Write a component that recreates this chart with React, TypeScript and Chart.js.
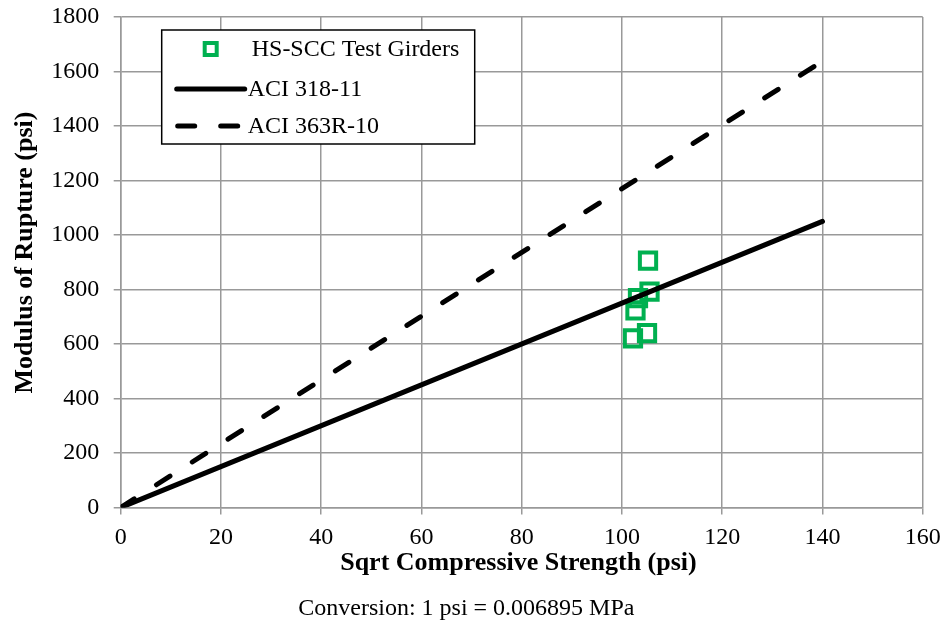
import React, { useEffect, useRef } from "react";
import { Chart, registerables } from "chart.js";

Chart.register(...registerables);

const FONT = "'Liberation Serif', 'Times New Roman', serif";
const FS = 24;
const TFS = 26;

const testX = [105.2, 105.5, 103.2, 102.7, 102.2, 105.0];
const testY = [906, 792, 768, 723, 621, 640];

const aci318X = [0, 140];
const aci318Y = [0, 1050];

const aci363X = [0, 140];
const aci363Y = [0, 1638];

const seriesLabels = ["HS-SCC Test Girders", "ACI 318-11", "ACI 363R-10"];
const xTitle = "Sqrt Compressive Strength (psi) ";
const yTitle = "   Modulus of Rupture (psi)";
const noteText = "Conversion: 1 psi = 0.006895 MPa";

const GREEN = "#00b050";
const GRID = "#999999";

const toPoints = (xs: number[], ys: number[]) => xs.map((x, i) => ({ x, y: ys[i] }));

const legendPlugin = {
  id: "boxLegend",
  afterDraw(chart: any) {
    const { ctx, chartArea } = chart;
    const left = chartArea.left + 41;
    const top = chartArea.top + 13;
    const w = 313;
    const h = 114;
    ctx.save();
    ctx.fillStyle = "#ffffff";
    ctx.fillRect(left, top, w, h);
    ctx.strokeStyle = "#000000";
    ctx.lineWidth = 1.5;
    ctx.strokeRect(left, top, w, h);

    const rows = [top + 19, top + 59, top + 96];
    const textX = left + 90;
    ctx.font = `${FS}px ${FONT}`;
    ctx.textBaseline = "middle";
    ctx.textAlign = "left";

    // marker
    ctx.strokeStyle = GREEN;
    ctx.lineWidth = 4;
    ctx.strokeRect(left + 49 - 6, rows[0] - 6, 12, 12);

    // solid
    ctx.strokeStyle = "#000";
    ctx.lineWidth = 5;
    ctx.lineCap = "round";
    ctx.beginPath();
    ctx.moveTo(left + 15, rows[1]);
    ctx.lineTo(left + 83, rows[1]);
    ctx.stroke();

    // dashed
    ctx.setLineDash([17, 26]);
    ctx.beginPath();
    ctx.moveTo(left + 16, rows[2]);
    ctx.lineTo(left + 80, rows[2]);
    ctx.stroke();
    ctx.setLineDash([]);

    const labels = chart.data.datasets.map((d: any) => d.label);
    ctx.fillStyle = "#000";
    ctx.fillText(labels[0], textX, rows[0] + 1);
    ctx.fillText(labels[1], textX - 4, rows[1] + 1);
    ctx.fillText(labels[2], textX - 4, rows[2] + 1);
    ctx.restore();
  },
};

export default function App() {
  const ref = useRef<HTMLCanvasElement | null>(null);

  useEffect(() => {
    if (!ref.current) return;
    const chart = new Chart(ref.current, {
      type: "scatter",
      data: {
        datasets: [
          {
            label: seriesLabels[0],
            data: toPoints(testX, testY),
            showLine: false,
            pointStyle: "rect",
            pointRadius: 11.5,
            pointBorderWidth: 4,
            pointBorderColor: GREEN,
            pointBackgroundColor: "rgba(0,0,0,0)",
            borderColor: GREEN,
            order: 3,
          },
          {
            label: seriesLabels[1],
            data: toPoints(aci318X, aci318Y),
            showLine: true,
            pointRadius: 0,
            borderColor: "#000",
            borderWidth: 5,
            borderCapStyle: "round",
            order: 1,
          },
          {
            label: seriesLabels[2],
            data: toPoints(aci363X, aci363Y),
            showLine: true,
            pointRadius: 0,
            borderColor: "#000",
            borderWidth: 5,
            borderDash: [16, 26.4],
            borderCapStyle: "round",
            order: 2,
          },
        ],
      } as any,
      options: {
        animation: false,
        responsive: true,
        maintainAspectRatio: false,
        layout: { padding: { left: 10, right: 22.3, top: 17, bottom: 2 } },
        plugins: {
          legend: { display: false },
          tooltip: { enabled: false },
          title: {
            display: true,
            position: "bottom",
            text: noteText,
            color: "#000",
            font: { family: FONT, size: FS, weight: "normal" },
            padding: { top: 15, bottom: 4 },
          },
        },
        scales: {
          x: {
            type: "linear",
            min: 0,
            max: 160,
            border: { color: GRID, width: 1.5 },
            grid: { color: GRID, lineWidth: 1.5, tickLength: 7, tickColor: GRID },
            ticks: {
              stepSize: 20,
              color: "#000",
              padding: 4,
              font: { family: FONT, size: FS, lineHeight: 1.6 },
              callback: (v: any) => String(v),
            },
            title: {
              display: true,
              text: xTitle,
              color: "#000",
              font: { family: FONT, size: TFS, weight: "bold" },
              padding: { top: -12.9, bottom: 0 },
            },
          },
          y: {
            type: "linear",
            min: 0,
            max: 1800,
            border: { color: GRID, width: 1.5 },
            grid: { color: GRID, lineWidth: 1.5, tickLength: 7, tickColor: GRID },
            ticks: {
              stepSize: 200,
              color: "#000",
              padding: 14.4,
              font: { family: FONT, size: FS, lineHeight: 0.2 },
              callback: (v: any) => String(v),
            },
            title: {
              display: true,
              text: yTitle,
              color: "#000",
              font: { family: FONT, size: TFS, weight: "bold" },
              padding: { top: 0, bottom: -4.3 },
            },
          },
        },
      },
      plugins: [legendPlugin],
    });
    return () => chart.destroy();
  }, []);

  return (
    <div style={{ position: "absolute", left: 0, top: 0, width: 945, height: 629, background: "#fff" }}>
      <canvas ref={ref} />
    </div>
  );
}
